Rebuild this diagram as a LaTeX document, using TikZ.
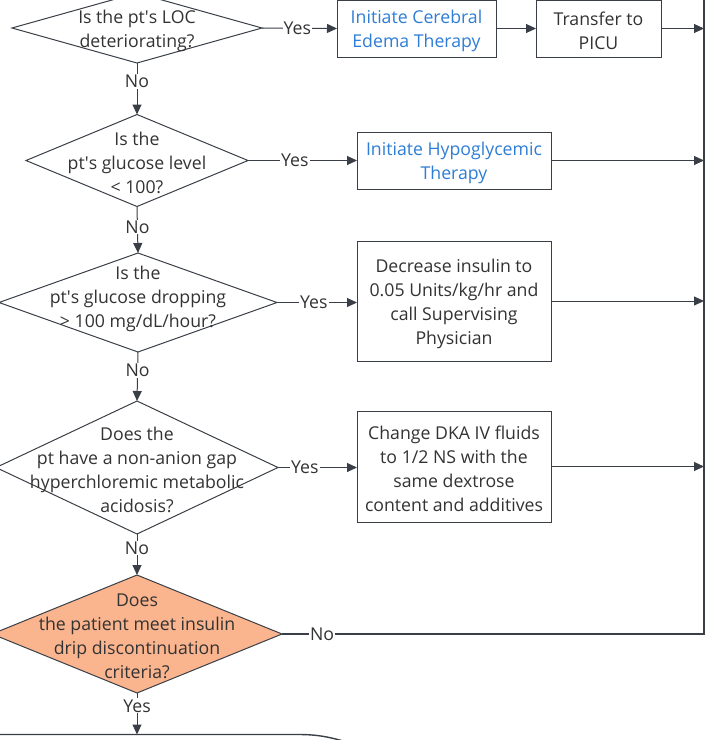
\documentclass[tikz,border=0pt]{standalone}
\usepackage{fontspec}
\setmainfont{Open Sans}
\usetikzlibrary{shapes.geometric}
\usetikzlibrary{arrows.meta}
\definecolor{linegray}{RGB}{58,63,71}
\definecolor{textgray}{RGB}{51,51,51}
\definecolor{linkblue}{RGB}{46,125,214}
\definecolor{peach}{RGB}{250,180,142}
\tikzset{>={Triangle[length=10pt, width=9pt]}}
\tikzset{decision/.style={diamond, draw=linegray, fill=white, line width=1pt, inner sep=0pt, outer sep=0pt}}
\tikzset{process/.style={rectangle, draw=linegray, fill=white, line width=1pt, inner sep=0pt, outer sep=0pt}}
\tikzset{qtext/.style={align=center, text=textgray, inner sep=0pt, yshift=-2.5pt}}
\tikzset{flow/.style={draw=linegray, line width=1pt}}
\tikzset{tag/.style={fill=white, inner sep=1pt, text=textgray}}
\newcommand*{\apos}{\textquotesingle}

\begin{document}
\begin{tikzpicture}[x=1pt, y=-1pt, font=\fontsize{17.7}{24}\selectfont]
    \useasboundingbox(0, 0)rectangle(707, 740);
    \coordinate(railtop)at(704, -10);
    \coordinate(endtop)at(137, 734.5);
    \node[decision, minimum width=250pt, minimum height=70pt, label={[qtext]center:{Is the pt\apos s LOC\\deteriorating?}}](loc)at(137, 28){};
    \node[decision, minimum width=222pt, minimum height=92pt, label={[qtext]center:{Is the\\pt\apos s glucose level\\< 100?}}](glucose)at(137, 160.5){};
    \node[decision, minimum width=278pt, minimum height=99pt, label={[qtext, yshift=6pt]center:{Is the\\pt\apos s glucose dropping\\> 100 mg/dL/hour?}}](drop)at(138, 302.5){};
    \node[decision, minimum width=282pt, minimum height=133pt, label={[qtext]center:{Does the\\pt have a non-anion gap\\hyperchloremic metabolic\\acidosis?}}](acid)at(137, 467.5){};
    \node[decision, fill=peach, minimum width=290pt, minimum height=118pt, label={[qtext]center:{Does\\the patient meet insulin\\drip discontinuation\\criteria?}}](stop)at(137, 634){};
    \node[process, minimum width=159pt, minimum height=57pt, label={[qtext, text=linkblue]center:{Initiate Cerebral\\Edema Therapy}}](cerebral)at(416.5, 28.5){};
    \node[process, minimum width=125pt, minimum height=57pt, label={[qtext]center:{Transfer to\\PICU}}](picu)at(598.5, 28.5){};
    \node[process, minimum width=194pt, minimum height=57pt, label={[qtext, text=linkblue]center:{Initiate Hypoglycemic\\Therapy}}](hypo)at(454, 160.5){};
    \node[process, minimum width=194pt, minimum height=120pt, label={[qtext]center:{Decrease insulin to\\0.05 Units/kg/hr and\\call Supervising\\Physician}}](insulin)at(454, 301){};
    \node[process, minimum width=194pt, minimum height=111pt, label={[qtext]center:{Change DKA IV fluids\\to 1/2 NS with the\\same dextrose\\content and additives}}](fluids)at(454, 466.5){};
    \draw[flow, ->](loc.east)--(cerebral.west)node[tag, pos=.47]{Yes};
    \draw[flow, ->](cerebral.east)--(picu.west);
    \draw[flow, ->](picu.east)--(picu.east -| railtop);
    \draw[flow, ->](glucose.east)--(hypo.west)node[tag, pos=.43]{Yes};
    \draw[flow, ->](hypo.east)--(hypo.east -| railtop);
    \draw[flow, ->](drop.east)--(insulin.west |- drop.east)node[tag, pos=.46]{Yes};
    \draw[flow, ->](insulin.east)--(insulin.east -| railtop);
    \draw[flow, ->](acid.east)--(fluids.west |- acid.east)node[tag, pos=.34]{Yes};
    \draw[flow, ->](fluids.east)--(fluids.east -| railtop);
    \draw[flow, ->](loc.south)--(glucose.north)node[tag, pos=.36]{No};
    \draw[flow, ->](glucose.south)--(drop.north)node[tag, pos=.44]{No};
    \draw[flow, ->](drop.south)--(acid.north)node[tag, pos=.37]{No};
    \draw[flow, ->](acid.south)--(stop.north)node[tag, pos=.34]{No};
    \draw[flow, line width=1.6pt](stop.east)--(stop.east -| railtop)node[tag, pos=.095]{No}--(railtop);
    \draw[flow, line width=1.4pt](-10, 734.5)--(298, 734.5).. controls(318, 734.5)and(330, 737)..(350, 743);
    \draw[flow, ->](stop.south)--(endtop)node[tag, pos=.31]{Yes};
\end{tikzpicture}
\end{document}
